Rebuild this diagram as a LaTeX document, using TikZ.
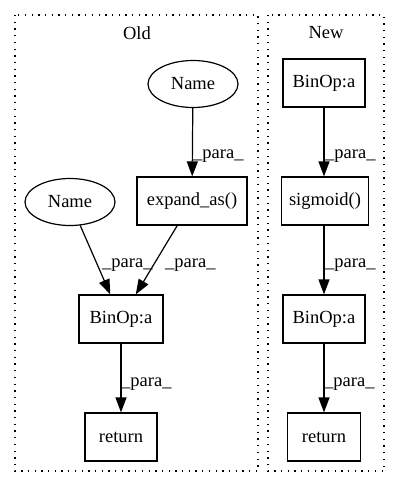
\documentclass[tikz,border=0pt]{standalone}
\usepackage{fontspec}
\setmainfont{Liberation Serif}
\usetikzlibrary{arrows.meta,shapes.geometric}

\begin{document}
\begin{tikzpicture}[x=1pt,y=-1pt,
  every node/.style={font=\fontsize{18.5}{22}\selectfont},
  opbox/.style={draw, line width=1.2pt, rectangle, inner sep=0pt, minimum height=48pt},
  leaf/.style={draw, line width=1.2pt, ellipse, inner sep=0pt, minimum width=90pt, minimum height=47pt},
  flow/.style={line width=1.2pt, -{Triangle[length=15pt,width=11pt]}},
  elabel/.style={anchor=base west, inner sep=0pt},
  cluster/.style={draw, line width=1.2pt, dash pattern=on 1.3pt off 5.4pt}]

\useasboundingbox (0,0) rectangle (400,488);

% cluster frames
\draw[cluster] (15,15) rectangle (258,471);
\draw[cluster] (268,15) rectangle (384,471);
\node (oldtitle) at (137,33) {Old};
\node (newtitle) at (326,33) {New};

% Old graph
\node[leaf] (name1) at (193,84) {Name};
\node[opbox, minimum width=110pt] (expand) at (192,201) {expand\_as()};
\node[leaf] (name2) at (70,202) {Name};
\node[opbox, minimum width=84pt] (binold) at (121,319) {BinOp:a};
\node[opbox, minimum width=72pt] (retold) at (121,437) {return};

\draw[flow] (name1) -- (expand);
\draw[flow] (name2) -- (binold);
\draw[flow] (expand) -- (binold);
\draw[flow] (binold) -- (retold);

\node[elabel] (l1) at (193,158) {\_para\_};
\node[elabel] (l2) at (102,267) {\_para\_};
\node[elabel] (l3) at (165,267) {\_para\_};
\node[elabel] (l4) at (121,386) {\_para\_};

% New graph
\node[opbox, minimum width=82pt] (binnew1) at (324,83) {BinOp:a};
\node[opbox, minimum width=87pt] (sigm) at (325,201) {sigmoid()};
\node[opbox, minimum width=82pt] (binnew2) at (324,319) {BinOp:a};
\node[opbox, minimum width=73pt] (retnew) at (324,437) {return};

\draw[flow] (binnew1) -- (binnew1 |- sigm.north);
\draw[flow] (sigm.south -| binnew2) -- (binnew2);
\draw[flow] (binnew2) -- (retnew);

\node[elabel] (l5) at (325,158) {\_para\_};
\node[elabel] (l6) at (325,267) {\_para\_};
\node[elabel] (l7) at (324,386) {\_para\_};
\end{tikzpicture}
\end{document}
